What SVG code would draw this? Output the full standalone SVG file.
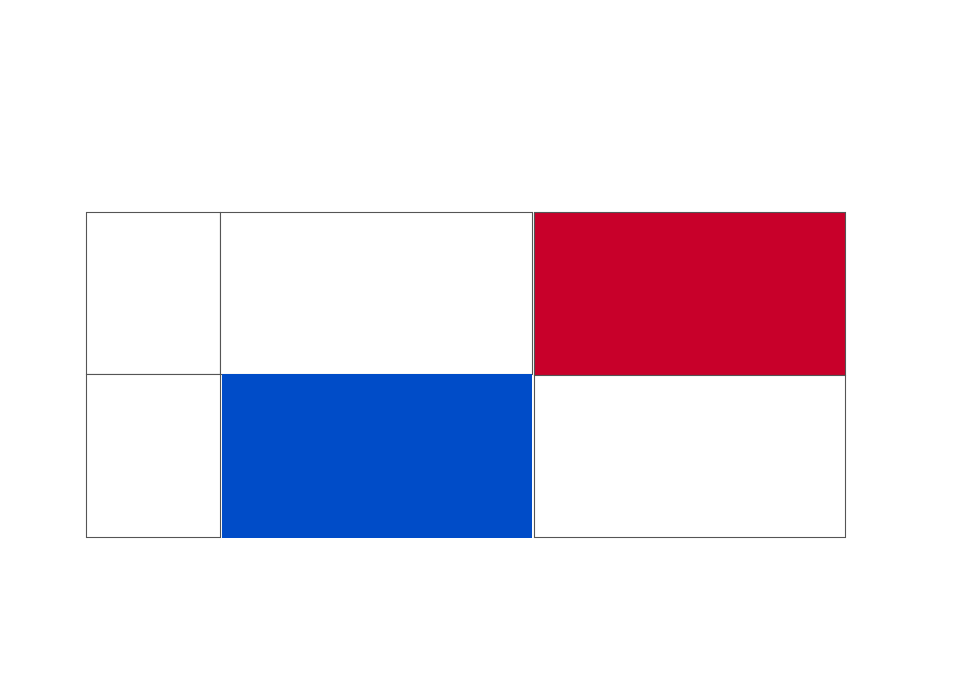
<svg xmlns="http://www.w3.org/2000/svg" width="980" height="700" viewBox="0 0 980 700">
<style>
.cell{stroke:#555;stroke-width:1.1;fill:#fff}
.red{fill:#C8002A}
</style>
<rect width="980" height="700" fill="#fff"/>
<g id="c1"><rect class="cell" x="86.5" y="212.5" width="134" height="162"/></g>
<g id="c2"><rect class="cell" x="86.5" y="374.5" width="134" height="163"/></g>
<g id="c3"><rect class="cell" x="220.5" y="212.5" width="312" height="162"/></g>
<g id="c4"><rect x="222" y="374" width="310" height="164" fill="#004CC8"/></g>
<g id="c5"><rect class="cell red" x="534.5" y="212.5" width="311" height="163"/></g>
<g id="c6"><rect class="cell" x="534.5" y="375.5" width="311" height="162"/></g>
<g id="connectors"></g>
</svg>
